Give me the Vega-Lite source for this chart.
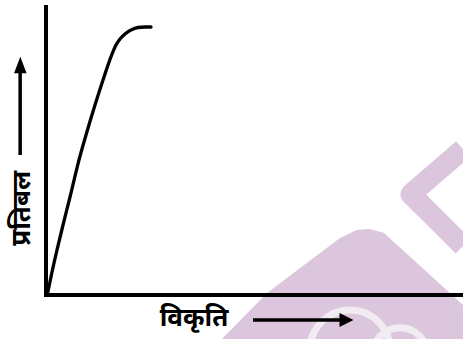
{
  "$schema": "https://vega.github.io/schema/vega-lite/v6.json",
  "width": 417,
  "height": 290,
  "autosize": {"type": "none"},
  "padding": {"left": 46, "top": 5, "right": 0, "bottom": 44},
  "background": "white",
  "config": {"view": {"stroke": null}},
  "datasets": {
    "curve": [
      {"strain": 0.3, "stress": 0},
      {"strain": 1.44, "stress": 7.93},
      {"strain": 2.64, "stress": 15.52},
      {"strain": 4.08, "stress": 24.14},
      {"strain": 5.76, "stress": 33.79},
      {"strain": 7.91, "stress": 46.55},
      {"strain": 9.59, "stress": 55.17},
      {"strain": 11.75, "stress": 65.52},
      {"strain": 13.91, "stress": 75.17},
      {"strain": 15.83, "stress": 83.1},
      {"strain": 16.79, "stress": 86.21},
      {"strain": 17.75, "stress": 88.28},
      {"strain": 18.94, "stress": 90.0},
      {"strain": 20.38, "stress": 91.38},
      {"strain": 22.06, "stress": 92.24},
      {"strain": 23.74, "stress": 92.41},
      {"strain": 25.18, "stress": 92.41}
    ],
    "axes": [
      {"x": 0, "x2": 0, "y": -0.69, "y2": 100},
      {"x": -0.48, "x2": 100, "y": 0, "y2": 0}
    ],
    "shafts": [
      {"x": -6.2, "x2": -6.2, "y": 48.28, "y2": 78.97},
      {"x": 49.64, "x2": 70.74, "y": -8.62, "y2": -8.62}
    ],
    "heads": [
      {"x": -6.16, "y": 79.31, "dir": "up"},
      {"x": 72.06, "y": -8.62, "dir": "right"}
    ],
    "labels": [
      {"x": 35.49, "y": -7.93, "text": "विकृति", "angle": 0},
      {"x": -5.76, "y": 29.9, "text": "प्रतिबल", "angle": 270}
    ],
    "wmTri": [
      {"x": 42.21, "y": -15.17},
      {"x": 53.0, "y": 0.69},
      {"x": 70.5, "y": 19.66},
      {"x": 74.5, "y": 22.41},
      {"x": 77.5, "y": 22.76},
      {"x": 81.0, "y": 21.5},
      {"x": 100, "y": -3.45}
    ],
    "wmBand": [
      {"x": 100, "y": 50.3, "o": 1},
      {"x": 87.5, "y": 34.8, "o": 2},
      {"x": 100, "y": 16.9, "o": 3}
    ],
    "wmRing": [
      {"x": 72.9, "y": -18.97, "d": 6400},
      {"x": 84.9, "y": -20.7, "d": 3000}
    ]
  },
  "layer": [
    {
      "data": {"name": "wmTri"},
      "mark": {"type": "area", "color": "#dcc6de", "clip": false},
      "encoding": {
        "x": {"field": "x", "type": "quantitative", "scale": {"domain": [0, 100]}, "axis": null},
        "y": {"field": "y", "type": "quantitative", "scale": {"domain": [0, 100]}, "axis": null},
        "y2": {"datum": -15.17}
      }
    },
    {
      "data": {"name": "wmBand"},
      "mark": {"type": "line", "color": "#dcc6de", "strokeWidth": 21, "strokeJoin": "round", "clip": false},
      "encoding": {
        "x": {"field": "x", "type": "quantitative"},
        "y": {"field": "y", "type": "quantitative"},
        "order": {"field": "o"}
      }
    },
    {
      "data": {"name": "wmRing"},
      "mark": {"type": "point", "shape": "circle", "filled": false, "stroke": "#f1ecf1", "strokeWidth": 7, "opacity": 1, "clip": false},
      "encoding": {
        "x": {"field": "x", "type": "quantitative"},
        "y": {"field": "y", "type": "quantitative"},
        "size": {"field": "d", "type": "quantitative", "scale": null}
      }
    },
    {
      "data": {"name": "axes"},
      "mark": {"type": "rule", "color": "black", "strokeWidth": 4, "clip": false},
      "encoding": {
        "x": {"field": "x", "type": "quantitative"},
        "x2": {"field": "x2"},
        "y": {"field": "y", "type": "quantitative"},
        "y2": {"field": "y2"}
      }
    },
    {
      "data": {"name": "shafts"},
      "mark": {"type": "rule", "color": "black", "strokeWidth": 3.5, "clip": false},
      "encoding": {
        "x": {"field": "x", "type": "quantitative"},
        "x2": {"field": "x2"},
        "y": {"field": "y", "type": "quantitative"},
        "y2": {"field": "y2"}
      }
    },
    {
      "data": {"name": "heads"},
      "transform": [{"filter": "datum.dir == 'up'"}],
      "mark": {"type": "point", "shape": "M0,-1L-0.76,1L0.76,1Z", "filled": true, "color": "black", "size": 272, "opacity": 1, "clip": false},
      "encoding": {
        "x": {"field": "x", "type": "quantitative"},
        "y": {"field": "y", "type": "quantitative"}
      }
    },
    {
      "data": {"name": "heads"},
      "transform": [{"filter": "datum.dir == 'right'"}],
      "mark": {"type": "point", "shape": "M1,0L-1,-1L-1,1Z", "filled": true, "color": "black", "size": 196, "opacity": 1, "clip": false},
      "encoding": {
        "x": {"field": "x", "type": "quantitative"},
        "y": {"field": "y", "type": "quantitative"}
      }
    },
    {
      "data": {"name": "curve"},
      "mark": {"type": "line", "color": "black", "strokeWidth": 3.3, "interpolate": "monotone", "strokeCap": "round", "clip": false},
      "encoding": {
        "x": {"field": "strain", "type": "quantitative"},
        "y": {"field": "stress", "type": "quantitative"}
      }
    },
    {
      "data": {"name": "labels"},
      "mark": {"type": "text", "font": "Noto Sans", "fontSize": 26, "fontWeight": "bold", "color": "black", "align": "center", "baseline": "middle", "clip": false},
      "encoding": {
        "x": {"field": "x", "type": "quantitative"},
        "y": {"field": "y", "type": "quantitative"},
        "text": {"field": "text"},
        "angle": {"field": "angle", "type": "quantitative", "scale": null}
      }
    }
  ]
}
